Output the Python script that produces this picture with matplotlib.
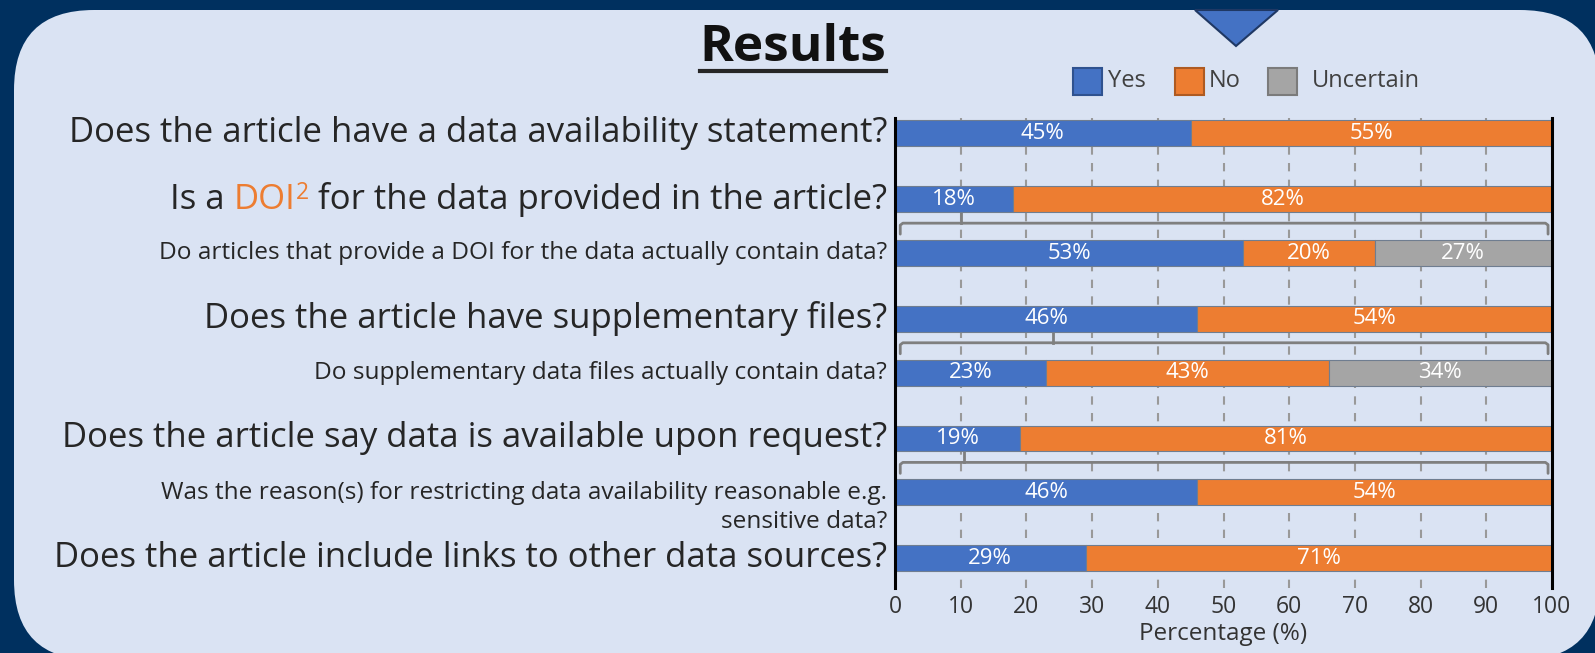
import matplotlib.pyplot as plt
from matplotlib.patches import FancyBboxPatch, Polygon, Rectangle
from matplotlib.lines import Line2D

plt.rcParams['font.family'] = ['Open Sans', 'DejaVu Sans']

# Daten
questions = [
    "Does the article have a data availability statement?",
    "Is a DOI² for the data provided in the article?",
    "Do articles that provide a DOI for the data actually contain data?",
    "Does the article have supplementary files?",
    "Do supplementary data files actually contain data?",
    "Does the article say data is available upon request?",
    "Was the reason(s) for restricting data availability reasonable e.g.\nsensitive data?",
    "Does the article include links to other data sources?",
]
yes = [45, 18, 53, 46, 23, 19, 46, 29]
no = [55, 82, 20, 54, 43, 81, 54, 71]
uncertain = [0, 0, 27, 0, 34, 0, 0, 0]
is_sub = [False, False, True, False, True, False, True, False]
series_names = ['Yes', 'No', 'Uncertain']
ticks = list(range(0, 101, 10))

colors = ['#4472C4', '#ED7D31', '#A5A5A5']
edges = ['#2f528f', '#ae5a21', '#7b7b7b']
navy = '#00305F'
panel = '#DAE3F3'
txt = '#262626'

W, H = 1595, 653
fig = plt.figure(figsize=(W / 100, H / 100), dpi=100)
fig.patch.set_facecolor(navy)

# Hintergrund (Pixel-Koordinaten)
bg = fig.add_axes([0, 0, 1, 1])
bg.set_xlim(0, W)
bg.set_ylim(H, 0)
bg.axis('off')
bg.add_patch(FancyBboxPatch((14, 10), 1600 - 14, 660 - 10,
                            boxstyle='round,pad=0,rounding_size=80',
                            fc=panel, ec='none'))
bg.add_patch(Polygon([(1195, 10), (1278, 10), (1236, 46)], closed=True,
                     fc='#4472C4', ec='#1f3864', lw=1.5))

title = bg.text(793, 61, 'Results', ha='center', va='baseline',
                fontsize=37, fontweight='bold', color='#111111')

# Legende
leg_x = [1073, 1175, 1268]
leg_tx = [1108, 1209, 1312]
for lx, tx, name, c, e in zip(leg_x, leg_tx, series_names, colors, edges):
    bg.add_patch(Rectangle((lx, 68), 29, 27, fc=c, ec=e, lw=1.5))
    bg.text(tx, 81, name, ha='left', va='center', fontsize=17, color='#404040')

# Balken
pos = [0]
for i in range(1, len(questions)):
    pos.append(pos[-1] + (54 if is_sub[i] else 66))

ax = fig.add_axes([895 / W, (H - 588) / H, (1552 - 895) / W, (588 - 118) / H])
ax.set_facecolor('none')
bar_h = 26

left = [0] * len(questions)
for vals, c in zip([yes, no, uncertain], colors):
    ax.barh(pos, vals, left=left, height=bar_h, color=c, edgecolor='#6f7d90',
            linewidth=0.8, zorder=2)
    for p, l, v in zip(pos, left, vals):
        if v > 0:
            ax.text(l + v / 2, p, f"{v}%", ha='center', va='center',
                    color='white', fontsize=16, zorder=3)
    left = [l + v for l, v in zip(left, vals)]

# Klammern zwischen Haupt- und Unterfrage
for i, sub in enumerate(is_sub):
    if not sub:
        continue
    top = pos[i] - bar_h / 2
    yb = top - 17
    ax.plot([0.8, 0.8, 1.2, 99.0, 99.4, 99.4], [top - 6, yb + 2, yb, yb, yb + 2, top - 6],
            color='#7f7f7f', lw=2, zorder=1.5, solid_capstyle='round')
    sx = yes[i - 1] / 2 + 1
    ax.plot([sx, sx], [pos[i - 1] + bar_h / 2, yb], color='#7f7f7f', lw=2, zorder=1.5)

ax.set_xlim(0, 100)
ax.set_ylim(pos[-1] + 30, -15.5)
ax.set_yticks([])
ax.set_xticks(ticks)
ax.tick_params(axis='x', length=0, labelsize=16.5, pad=5, labelcolor='#333333')
ax.set_xlabel('Percentage (%)', fontsize=17.5, color='#333333', labelpad=2)
ax.grid(axis='x', color='#999999', lw=1.5, linestyle=(0, (4, 4)), zorder=0)
ax.set_axisbelow(True)
for s in ['top', 'bottom']:
    ax.spines[s].set_visible(False)
for s in ['left', 'right']:
    ax.spines[s].set_color('black')
    ax.spines[s].set_linewidth(2.2)


# Beschriftungen links
def label(y, text, size):
    kw = dict(textcoords='offset pixels', annotation_clip=False)
    if 'DOI²' in text:
        head, tail = text.split('DOI²')
        t1 = ax.annotate(tail.strip(), xy=(0, y), xycoords='data', xytext=(-8, 0),
                         ha='right', va='center', fontsize=size, color=txt, **kw)
        t2 = ax.annotate('2', xy=(0, 1), xycoords=t1, xytext=(-9, 1),
                         ha='right', va='top', fontsize=size * 0.66, color='#ED7D31', **kw)
        t3 = ax.annotate('DOI', xy=(0, 0), xycoords=(t2, t1), xytext=(0, 0),
                         ha='right', va='bottom', fontsize=size, color='#ED7D31', **kw)
        ax.annotate(head.strip(), xy=(0, 0), xycoords=(t3, t1), xytext=(-9, 0),
                    ha='right', va='bottom', fontsize=size, color=txt, **kw)
    else:
        off = 15 if '\n' in text else 0
        ax.annotate(text, xy=(0, y + off), xycoords='data', xytext=(-8, 0),
                    ha='right', va='center', multialignment='right', linespacing=1.25,
                    fontsize=size, color=txt, **kw)


for q, p, sub in zip(questions, pos, is_sub):
    label(p, q, 17.6 if sub else 25)

# Unterstreichung Titel
fig.canvas.draw()
bb = title.get_window_extent()
bg.add_line(Line2D([bb.x0, bb.x1], [71, 71], color='#262626', lw=3))

fig.savefig('out.png', dpi=100, facecolor=fig.get_facecolor())
